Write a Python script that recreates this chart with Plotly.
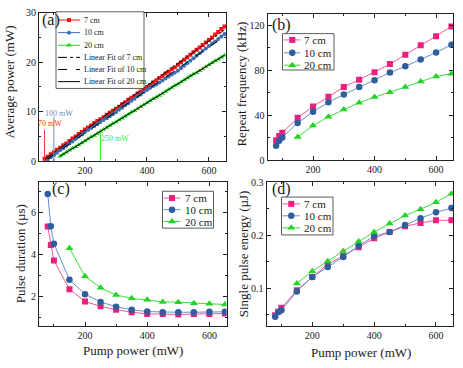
import numpy as np
import plotly.graph_objects as go

# ---------------- data ----------------
# (a) average power vs pump power
pump_a_7 = list(range(70, 660, 10))
power_a_7 = [0.5, 0.9, 1.4, 1.8, 2.3, 2.7, 3.2, 3.6, 4.1, 4.6, 5.0, 5.5, 5.9, 6.4, 6.8, 7.2, 7.7, 8.1,
             8.5, 8.9, 9.4, 9.8, 10.2, 10.6, 11.0, 11.5, 11.9, 12.4, 12.8, 13.2, 13.7, 14.1, 14.6, 15.0,
             15.4, 15.9, 16.3, 16.8, 17.2, 17.7, 18.1, 18.6, 19.0, 19.5, 20.0, 20.5, 21.0, 21.5, 22.0,
             22.5, 23.0, 23.5, 24.0, 24.5, 25.0, 25.6, 26.1, 26.7, 27.2]
pump_a_10 = list(range(80, 660, 10))
power_a_10 = [0.3, 0.8, 1.2, 1.7, 2.2, 2.6, 3.1, 3.6, 4.0, 4.5, 5.0, 5.4, 5.9, 6.3, 6.7, 7.1, 7.5, 7.9,
              8.3, 8.7, 9.1, 9.5, 9.9, 10.4, 10.8, 11.3, 11.7, 12.2, 12.6, 13.1, 13.5, 14.0, 14.4, 14.8,
              15.2, 15.5, 15.9, 16.3, 16.7, 17.1, 17.5, 17.9, 18.3, 18.8, 19.3, 19.8, 20.3, 20.8, 21.3,
              21.8, 22.3, 22.8, 23.3, 23.8, 24.2, 24.7, 25.2, 25.7]
pump_a_20 = list(range(120, 660, 10))
power_a_20 = [1.0, 1.4, 1.8, 2.2, 2.6, 2.9, 3.3, 3.7, 4.1, 4.5, 4.9, 5.2, 5.6, 6.0, 6.4, 6.8, 7.2, 7.6,
              7.9, 8.3, 8.7, 9.1, 9.5, 9.9, 10.2, 10.6, 11.0, 11.4, 11.8, 12.2, 12.6, 12.9, 13.3, 13.7,
              14.1, 14.5, 14.9, 15.3, 15.6, 16.0, 16.4, 16.8, 17.2, 17.6, 17.9, 18.3, 18.7, 19.1, 19.5,
              19.9, 20.3, 20.6, 21.0, 21.4]
threshold_pump = [70, 100, 250]
threshold_labels = ["70 mW", "100 mW", "250 mW"]

# (b)-(d) pulse characteristics
pump_7 = [80, 90, 100, 150, 200, 250, 300, 350, 400, 450, 500, 550, 600, 650]
pump_10 = [80, 90, 100, 150, 200, 250, 300, 350, 400, 450, 500, 550, 600, 650]
pump_20 = [150, 200, 250, 300, 350, 400, 450, 500, 550, 600, 650]

freq_7 = [17.8, 21.5, 24.4, 37.6, 47.7, 56.3, 64.9, 71.5, 78.1, 85.3, 93.6, 102.0, 110.0, 118.6]
freq_10 = [12.9, 17.2, 20.1, 33.0, 43.1, 51.4, 58.3, 64.9, 70.9, 77.8, 83.3, 89.3, 95.6, 102.5]
freq_20 = [20.7, 30.7, 38.5, 45.1, 51.1, 56.0, 60.3, 64.9, 69.8, 74.4, 76.7]

dur_7 = [5.34, 4.46, 3.72, 2.35, 1.77, 1.54, 1.38, 1.26, 1.18, 1.17, 1.15, 1.17, 1.18, 1.20]
dur_10 = [6.88, 5.35, 4.52, 2.80, 2.12, 1.75, 1.52, 1.38, 1.29, 1.26, 1.26, 1.26, 1.28, 1.28]
dur_20 = [4.30, 2.97, 2.42, 2.08, 1.92, 1.85, 1.75, 1.74, 1.69, 1.66, 1.63]

energy_7 = [0.049, 0.0555, 0.063, 0.096, 0.121, 0.145, 0.161, 0.177, 0.194, 0.206, 0.217, 0.223, 0.228, 0.228]
energy_10 = [0.046, 0.055, 0.0585, 0.094, 0.121, 0.140, 0.159, 0.180, 0.198, 0.206, 0.219, 0.232, 0.243, 0.251]
energy_20 = [0.109, 0.132, 0.151, 0.170, 0.188, 0.206, 0.222, 0.237, 0.249, 0.262, 0.278]

labels = ["7 cm", "10 cm", "20 cm"]
fit_labels = ["Linear Fit of 7 cm", "Linear Fit of 10 cm", "Linear Fit of 20 cm"]

# ---------------- style ----------------
W, H = 463, 368
FONT = "Liberation Serif"
TXT = "#1a1a1a"
RED, BLUE_A, GREEN = "#f01515", "#3c6db0", "#22d422"
PINK, PINK_L = "#ee1f7c", "#f2579b"
BLUE, BLUE_L = "#2f5e9e", "#6790c8"
GREEN_L = "#3ae03a"

fig = go.Figure()

def px_x(v):
    return v / W

def px_y(v):
    return 1 - v / H

# (a)
fig.add_trace(go.Scatter(x=pump_a_7, y=power_a_7, mode="lines+markers", xaxis="x", yaxis="y",
                         line=dict(color=RED, width=1), marker=dict(symbol="square", size=4, color=RED)))
fig.add_trace(go.Scatter(x=pump_a_10, y=power_a_10, mode="lines+markers", xaxis="x", yaxis="y",
                         line=dict(color=BLUE_A, width=1), marker=dict(symbol="circle", size=4, color=BLUE_A)))
fig.add_trace(go.Scatter(x=pump_a_20, y=power_a_20, mode="lines+markers", xaxis="x", yaxis="y",
                         line=dict(color=GREEN, width=1), marker=dict(symbol="triangle-up", size=5, color=GREEN)))
for xs, ys, dash in [(pump_a_7, power_a_7, "dashdot"), (pump_a_10, power_a_10, "dash"), (pump_a_20, power_a_20, "solid")]:
    k, b = np.polyfit(xs, ys, 1)
    xf = [min(xs), max(xs)]
    fig.add_trace(go.Scatter(x=xf, y=[k * v + b for v in xf], mode="lines", xaxis="x", yaxis="y",
                             line=dict(color="black", width=1, dash=dash)))

def add_set(xa, ya, ys7, ys10, ys20):
    fig.add_trace(go.Scatter(x=pump_7, y=ys7, mode="lines+markers", xaxis=xa, yaxis=ya,
                             line=dict(color=PINK_L, width=1), marker=dict(symbol="square", size=6, color=PINK)))
    fig.add_trace(go.Scatter(x=pump_10, y=ys10, mode="lines+markers", xaxis=xa, yaxis=ya,
                             line=dict(color=BLUE_L, width=1), marker=dict(symbol="circle", size=6.5, color=BLUE)))
    fig.add_trace(go.Scatter(x=pump_20, y=ys20, mode="lines+markers", xaxis=xa, yaxis=ya,
                             line=dict(color=GREEN_L, width=1), marker=dict(symbol="triangle-up", size=7, color=GREEN)))

add_set("x2", "y2", freq_7, freq_10, freq_20)
add_set("x3", "y3", dur_7, dur_10, dur_20)
add_set("x4", "y4", energy_7, energy_10, energy_20)

# threshold markers in (a)
thr_colors = ["#ff3030", "#6a8cc0", "#33ee33"]
thr_tops = [6.4, 9.0, 5.7]
thr_text_pos = [(86, 7.7), (117, 9.6), (296, 4.5)]
shapes = []
annotations = []
for t, c, top, lab, (tx, ty) in zip(threshold_pump, thr_colors, thr_tops, threshold_labels, thr_text_pos):
    shapes.append(dict(type="line", xref="x", yref="y", x0=t, x1=t, y0=0, y1=top, line=dict(color=c, width=1)))
    annotations.append(dict(x=tx, y=ty, xref="x", yref="y", text=lab, showarrow=False,
                            font=dict(family=FONT, size=8, color=c)))

# ---------------- manual legends (overlay pixel axis) ----------------
def legend(box, rows, x_line, x_text, fs, entries):
    x0, y0, x1, y1 = box
    fig.add_trace(go.Scatter(x=[x0, x1, x1, x0, x0], y=[y0, y0, y1, y1, y0], mode="lines", fill="toself",
                             fillcolor="white", line=dict(color="#333", width=0.8), xaxis="x5", yaxis="y5"))
    for yy, (lab, color, lcolor, sym, size, dash) in zip(rows, entries):
        fig.add_trace(go.Scatter(x=[x_line[0], x_line[1]], y=[yy, yy], mode="lines", xaxis="x5", yaxis="y5",
                                 line=dict(color=lcolor, width=1, dash=dash)))
        if sym:
            fig.add_trace(go.Scatter(x=[(x_line[0] + x_line[1]) / 2], y=[yy], mode="markers", xaxis="x5", yaxis="y5",
                                     marker=dict(symbol=sym, size=size, color=color)))
        annotations.append(dict(x=x_text, y=yy, xref="x5", yref="y5", text=lab, showarrow=False, xanchor="left",
                                yanchor="middle", font=dict(family=FONT, size=fs, color=TXT)))

legend((56, 7, 144, 86), [15.5, 28.5, 41.5, 54, 66.5, 79], (58, 80), 81.5, 8,
       [(labels[0], RED, RED, "square", 4, "solid"),
        (labels[1], BLUE_A, BLUE_A, "circle", 4, "solid"),
        (labels[2], GREEN, GREEN, "triangle-up", 5, "solid"),
        (fit_labels[0], "black", "black", None, 0, "dashdot"),
        (fit_labels[1], "black", "black", None, 0, "dash"),
        (fit_labels[2], "black", "black", None, 0, "solid")])
pp_entries = [(labels[0], PINK, PINK_L, "square", 6, "solid"),
              (labels[1], BLUE, BLUE_L, "circle", 6.5, "solid"),
              (labels[2], GREEN, GREEN_L, "triangle-up", 7, "solid")]
legend((282.5, 29.5, 334, 67), [36, 49.3, 62], (284, 300.5), 302, 11, pp_entries)
legend((162.5, 192, 213.5, 230), [199, 211, 223.2], (163.5, 180.5), 182.5, 11, pp_entries)
legend((281.5, 198, 333, 237), [205, 217.3, 229.7], (282.5, 300), 302, 11, pp_entries)

# panel letters and axis titles (pixel positions)
for txt, x, y in [("(a)", 39.5, 15.5), ("(b)", 270, 21), ("(c)", 50, 190), ("(d)", 270, 189.5)]:
    annotations.append(dict(x=x, y=y, xref="x5", yref="y5", text=txt, showarrow=False, xanchor="left",
                            yanchor="middle", font=dict(family=FONT, size=16, color=TXT)))
for txt, x, y in [("Average power (mW)", 10, 80), ("Repeat frequency (kHz)", 242, 82),
                  ("Pulse duration (µs)", 20, 257), ("Single pulse energy (µJ)", 243, 257)]:
    annotations.append(dict(x=x, y=y, xref="x5", yref="y5", text=txt, showarrow=False, textangle=-90,
                            font=dict(family=FONT, size=13, color=TXT)))
for x, y in [(132.5, 356.5), (361, 358)]:
    annotations.append(dict(x=x, y=y, xref="x5", yref="y5", text="Pump power (mW)", showarrow=False,
                            font=dict(family=FONT, size=13, color=TXT)))

# ---------------- axes ----------------
def ax(domain, rng, anchor, tickvals, minorvals):
    return dict(domain=domain, range=rng, anchor=anchor, showline=True, linecolor="#222", linewidth=1,
                mirror="allticks", ticks="inside", ticklen=4, tickcolor="#222", tickvals=tickvals,
                tickfont=dict(family=FONT, size=10, color=TXT), showgrid=False, zeroline=False,
                minor=dict(ticks="inside", ticklen=2, tickcolor="#222", tickvals=minorvals), fixedrange=True)

XR = [52, 655]
xt, xm = [200, 400, 600], [100, 300, 500]
layout = dict(
    width=W, height=H, margin=dict(l=0, r=0, t=0, b=0), paper_bgcolor="white", plot_bgcolor="rgba(0,0,0,0)",
    showlegend=False,
    xaxis=ax([px_x(39), px_x(226)], XR, "y", xt, xm),
    yaxis=ax([px_y(161), px_y(8)], [0, 30], "x", [0, 10, 20, 30], [5, 15, 25]),
    xaxis2=ax([px_x(267.5), px_x(453)], XR, "y2", xt, xm),
    yaxis2=ax([px_y(160), px_y(9)], [0, 130], "x2", [0, 40, 80, 120], [20, 60, 100]),
    xaxis3=ax([px_x(39), px_x(226.5)], XR, "y3", xt, xm),
    yaxis3=ax([px_y(331), px_y(182.5)], [0.6, 7.45], "x3", [2, 4, 6], [1, 3, 5, 7]),
    xaxis4=ax([px_x(266.5), px_x(453)], XR, "y4", xt, xm),
    yaxis4=ax([px_y(331.3), px_y(182.3)], [0.028, 0.3005], "x4", [0.1, 0.2, 0.3], [0.05, 0.15, 0.25]),
    xaxis5=dict(domain=[0, 1], range=[0, W], anchor="y5", visible=False, fixedrange=True),
    yaxis5=dict(domain=[0, 1], range=[H, 0], anchor="x5", visible=False, fixedrange=True),
    shapes=shapes, annotations=annotations,
)
fig.update_layout(**layout)
fig.write_html("out.html", config={"displayModeBar": False},
               post_script="document.body.style.margin='0';document.body.style.overflow='hidden';")
